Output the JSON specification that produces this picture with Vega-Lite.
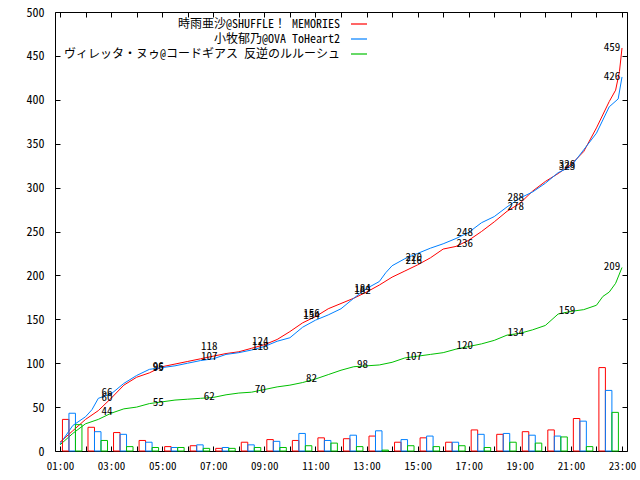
{
  "$schema": "https://vega.github.io/schema/vega-lite/v6.json",
  "width": 572,
  "height": 439,
  "autosize": "none",
  "padding": {"left": 55, "top": 12, "right": 13, "bottom": 29},
  "background": "white",
  "config": {
    "view": {"stroke": "black", "strokeWidth": 1},
    "font": "'Noto Sans Mono CJK JP', 'Noto Sans CJK JP', sans-serif",
    "axis": {
      "domain": false, "grid": false, "title": null,
      "tickColor": "black", "tickSize": -5, "tickWidth": 1,
      "labelColor": "black", "labelFontSize": 11,
      "labelFont": "'Noto Sans Mono CJK JP', 'Noto Sans CJK JP', sans-serif",
      "labelOverlap": false, "labelFlush": false
    },
    "legend": {
      "orient": "none", "legendX": 295, "legendY": 3,
      "title": null, "padding": 0,
      "symbolType": "stroke", "symbolSize": 256, "symbolStrokeWidth": 1.2,
      "labelAlign": "right", "labelOffset": -28, "labelLimit": 400,
      "labelFontSize": 12, "labelColor": "black",
      "labelFont": "'Noto Sans Mono CJK JP', 'Noto Sans CJK JP', sans-serif",
      "rowPadding": -2
    }
  },
  "datasets": {
    "hourly": [
      {"hour": 1, "series": "時雨亜沙@SHUFFLE！ MEMORIES", "votes": 36},
      {"hour": 2, "series": "時雨亜沙@SHUFFLE！ MEMORIES", "votes": 27},
      {"hour": 3, "series": "時雨亜沙@SHUFFLE！ MEMORIES", "votes": 21},
      {"hour": 4, "series": "時雨亜沙@SHUFFLE！ MEMORIES", "votes": 12},
      {"hour": 5, "series": "時雨亜沙@SHUFFLE！ MEMORIES", "votes": 5},
      {"hour": 6, "series": "時雨亜沙@SHUFFLE！ MEMORIES", "votes": 6},
      {"hour": 7, "series": "時雨亜沙@SHUFFLE！ MEMORIES", "votes": 3},
      {"hour": 8, "series": "時雨亜沙@SHUFFLE！ MEMORIES", "votes": 10},
      {"hour": 9, "series": "時雨亜沙@SHUFFLE！ MEMORIES", "votes": 13},
      {"hour": 10, "series": "時雨亜沙@SHUFFLE！ MEMORIES", "votes": 12},
      {"hour": 11, "series": "時雨亜沙@SHUFFLE！ MEMORIES", "votes": 15},
      {"hour": 12, "series": "時雨亜沙@SHUFFLE！ MEMORIES", "votes": 14},
      {"hour": 13, "series": "時雨亜沙@SHUFFLE！ MEMORIES", "votes": 17},
      {"hour": 14, "series": "時雨亜沙@SHUFFLE！ MEMORIES", "votes": 10},
      {"hour": 15, "series": "時雨亜沙@SHUFFLE！ MEMORIES", "votes": 15},
      {"hour": 16, "series": "時雨亜沙@SHUFFLE！ MEMORIES", "votes": 10},
      {"hour": 17, "series": "時雨亜沙@SHUFFLE！ MEMORIES", "votes": 24},
      {"hour": 18, "series": "時雨亜沙@SHUFFLE！ MEMORIES", "votes": 19},
      {"hour": 19, "series": "時雨亜沙@SHUFFLE！ MEMORIES", "votes": 22},
      {"hour": 20, "series": "時雨亜沙@SHUFFLE！ MEMORIES", "votes": 24},
      {"hour": 21, "series": "時雨亜沙@SHUFFLE！ MEMORIES", "votes": 37},
      {"hour": 22, "series": "時雨亜沙@SHUFFLE！ MEMORIES", "votes": 95},
      {"hour": 1, "series": "小牧郁乃@OVA ToHeart2", "votes": 43},
      {"hour": 2, "series": "小牧郁乃@OVA ToHeart2", "votes": 22},
      {"hour": 3, "series": "小牧郁乃@OVA ToHeart2", "votes": 19},
      {"hour": 4, "series": "小牧郁乃@OVA ToHeart2", "votes": 10},
      {"hour": 5, "series": "小牧郁乃@OVA ToHeart2", "votes": 4},
      {"hour": 6, "series": "小牧郁乃@OVA ToHeart2", "votes": 7},
      {"hour": 7, "series": "小牧郁乃@OVA ToHeart2", "votes": 4},
      {"hour": 8, "series": "小牧郁乃@OVA ToHeart2", "votes": 7},
      {"hour": 9, "series": "小牧郁乃@OVA ToHeart2", "votes": 11},
      {"hour": 10, "series": "小牧郁乃@OVA ToHeart2", "votes": 20},
      {"hour": 11, "series": "小牧郁乃@OVA ToHeart2", "votes": 12},
      {"hour": 12, "series": "小牧郁乃@OVA ToHeart2", "votes": 18},
      {"hour": 13, "series": "小牧郁乃@OVA ToHeart2", "votes": 23},
      {"hour": 14, "series": "小牧郁乃@OVA ToHeart2", "votes": 13},
      {"hour": 15, "series": "小牧郁乃@OVA ToHeart2", "votes": 17},
      {"hour": 16, "series": "小牧郁乃@OVA ToHeart2", "votes": 10},
      {"hour": 17, "series": "小牧郁乃@OVA ToHeart2", "votes": 19},
      {"hour": 18, "series": "小牧郁乃@OVA ToHeart2", "votes": 20},
      {"hour": 19, "series": "小牧郁乃@OVA ToHeart2", "votes": 18},
      {"hour": 20, "series": "小牧郁乃@OVA ToHeart2", "votes": 17},
      {"hour": 21, "series": "小牧郁乃@OVA ToHeart2", "votes": 34},
      {"hour": 22, "series": "小牧郁乃@OVA ToHeart2", "votes": 69},
      {"hour": 1, "series": "ヴィレッタ・ヌゥ@コードギアス 反逆のルルーシュ", "votes": 30},
      {"hour": 2, "series": "ヴィレッタ・ヌゥ@コードギアス 反逆のルルーシュ", "votes": 12},
      {"hour": 3, "series": "ヴィレッタ・ヌゥ@コードギアス 反逆のルルーシュ", "votes": 5},
      {"hour": 4, "series": "ヴィレッタ・ヌゥ@コードギアス 反逆のルルーシュ", "votes": 4},
      {"hour": 5, "series": "ヴィレッタ・ヌゥ@コードギアス 反逆のルルーシュ", "votes": 4},
      {"hour": 6, "series": "ヴィレッタ・ヌゥ@コードギアス 反逆のルルーシュ", "votes": 3},
      {"hour": 7, "series": "ヴィレッタ・ヌゥ@コードギアス 反逆のルルーシュ", "votes": 3},
      {"hour": 8, "series": "ヴィレッタ・ヌゥ@コードギアス 反逆のルルーシュ", "votes": 4},
      {"hour": 9, "series": "ヴィレッタ・ヌゥ@コードギアス 反逆のルルーシュ", "votes": 4},
      {"hour": 10, "series": "ヴィレッタ・ヌゥ@コードギアス 反逆のルルーシュ", "votes": 6},
      {"hour": 11, "series": "ヴィレッタ・ヌゥ@コードギアス 反逆のルルーシュ", "votes": 9},
      {"hour": 12, "series": "ヴィレッタ・ヌゥ@コードギアス 反逆のルルーシュ", "votes": 5},
      {"hour": 13, "series": "ヴィレッタ・ヌゥ@コードギアス 反逆のルルーシュ", "votes": 1},
      {"hour": 14, "series": "ヴィレッタ・ヌゥ@コードギアス 反逆のルルーシュ", "votes": 6},
      {"hour": 15, "series": "ヴィレッタ・ヌゥ@コードギアス 反逆のルルーシュ", "votes": 5},
      {"hour": 16, "series": "ヴィレッタ・ヌゥ@コードギアス 反逆のルルーシュ", "votes": 6},
      {"hour": 17, "series": "ヴィレッタ・ヌゥ@コードギアス 反逆のルルーシュ", "votes": 4},
      {"hour": 18, "series": "ヴィレッタ・ヌゥ@コードギアス 反逆のルルーシュ", "votes": 10},
      {"hour": 19, "series": "ヴィレッタ・ヌゥ@コードギアス 反逆のルルーシュ", "votes": 9},
      {"hour": 20, "series": "ヴィレッタ・ヌゥ@コードギアス 反逆のルルーシュ", "votes": 16},
      {"hour": 21, "series": "ヴィレッタ・ヌゥ@コードギアス 反逆のルルーシュ", "votes": 5},
      {"hour": 22, "series": "ヴィレッタ・ヌゥ@コードギアス 反逆のルルーシュ", "votes": 44}
    ],
    "totals": [
      {"time": 1, "series": "時雨亜沙@SHUFFLE！ MEMORIES", "votes": 10},
      {"time": 1.5, "series": "時雨亜沙@SHUFFLE！ MEMORIES", "votes": 23},
      {"time": 2, "series": "時雨亜沙@SHUFFLE！ MEMORIES", "votes": 36},
      {"time": 2.5, "series": "時雨亜沙@SHUFFLE！ MEMORIES", "votes": 46},
      {"time": 3, "series": "時雨亜沙@SHUFFLE！ MEMORIES", "votes": 60},
      {"time": 3.5, "series": "時雨亜沙@SHUFFLE！ MEMORIES", "votes": 75},
      {"time": 4, "series": "時雨亜沙@SHUFFLE！ MEMORIES", "votes": 84},
      {"time": 4.5, "series": "時雨亜沙@SHUFFLE！ MEMORIES", "votes": 89},
      {"time": 5, "series": "時雨亜沙@SHUFFLE！ MEMORIES", "votes": 96},
      {"time": 5.5, "series": "時雨亜沙@SHUFFLE！ MEMORIES", "votes": 99},
      {"time": 6, "series": "時雨亜沙@SHUFFLE！ MEMORIES", "votes": 102},
      {"time": 6.5, "series": "時雨亜沙@SHUFFLE！ MEMORIES", "votes": 105},
      {"time": 7, "series": "時雨亜沙@SHUFFLE！ MEMORIES", "votes": 108},
      {"time": 7.5, "series": "時雨亜沙@SHUFFLE！ MEMORIES", "votes": 111},
      {"time": 8, "series": "時雨亜沙@SHUFFLE！ MEMORIES", "votes": 113},
      {"time": 8.5, "series": "時雨亜沙@SHUFFLE！ MEMORIES", "votes": 117},
      {"time": 9, "series": "時雨亜沙@SHUFFLE！ MEMORIES", "votes": 121},
      {"time": 9.5, "series": "時雨亜沙@SHUFFLE！ MEMORIES", "votes": 127},
      {"time": 10, "series": "時雨亜沙@SHUFFLE！ MEMORIES", "votes": 136},
      {"time": 10.5, "series": "時雨亜沙@SHUFFLE！ MEMORIES", "votes": 146},
      {"time": 11, "series": "時雨亜沙@SHUFFLE！ MEMORIES", "votes": 153},
      {"time": 11.5, "series": "時雨亜沙@SHUFFLE！ MEMORIES", "votes": 162},
      {"time": 12, "series": "時雨亜沙@SHUFFLE！ MEMORIES", "votes": 168},
      {"time": 12.5, "series": "時雨亜沙@SHUFFLE！ MEMORIES", "votes": 174},
      {"time": 13, "series": "時雨亜沙@SHUFFLE！ MEMORIES", "votes": 181},
      {"time": 13.5, "series": "時雨亜沙@SHUFFLE！ MEMORIES", "votes": 189},
      {"time": 14, "series": "時雨亜沙@SHUFFLE！ MEMORIES", "votes": 198},
      {"time": 14.5, "series": "時雨亜沙@SHUFFLE！ MEMORIES", "votes": 205},
      {"time": 15, "series": "時雨亜沙@SHUFFLE！ MEMORIES", "votes": 212},
      {"time": 15.5, "series": "時雨亜沙@SHUFFLE！ MEMORIES", "votes": 220},
      {"time": 16, "series": "時雨亜沙@SHUFFLE！ MEMORIES", "votes": 230},
      {"time": 16.5, "series": "時雨亜沙@SHUFFLE！ MEMORIES", "votes": 233},
      {"time": 17, "series": "時雨亜沙@SHUFFLE！ MEMORIES", "votes": 240},
      {"time": 17.5, "series": "時雨亜沙@SHUFFLE！ MEMORIES", "votes": 250},
      {"time": 18, "series": "時雨亜沙@SHUFFLE！ MEMORIES", "votes": 261},
      {"time": 18.5, "series": "時雨亜沙@SHUFFLE！ MEMORIES", "votes": 273},
      {"time": 19, "series": "時雨亜沙@SHUFFLE！ MEMORIES", "votes": 282},
      {"time": 19.5, "series": "時雨亜沙@SHUFFLE！ MEMORIES", "votes": 296},
      {"time": 20, "series": "時雨亜沙@SHUFFLE！ MEMORIES", "votes": 307},
      {"time": 20.5, "series": "時雨亜沙@SHUFFLE！ MEMORIES", "votes": 316},
      {"time": 21, "series": "時雨亜沙@SHUFFLE！ MEMORIES", "votes": 326},
      {"time": 21.5, "series": "時雨亜沙@SHUFFLE！ MEMORIES", "votes": 341},
      {"time": 22, "series": "時雨亜沙@SHUFFLE！ MEMORIES", "votes": 368},
      {"time": 22.5, "series": "時雨亜沙@SHUFFLE！ MEMORIES", "votes": 398},
      {"time": 22.75, "series": "時雨亜沙@SHUFFLE！ MEMORIES", "votes": 411},
      {"time": 22.9, "series": "時雨亜沙@SHUFFLE！ MEMORIES", "votes": 432},
      {"time": 23, "series": "時雨亜沙@SHUFFLE！ MEMORIES", "votes": 459},
      {"time": 1, "series": "小牧郁乃@OVA ToHeart2", "votes": 8},
      {"time": 1.5, "series": "小牧郁乃@OVA ToHeart2", "votes": 29},
      {"time": 2, "series": "小牧郁乃@OVA ToHeart2", "votes": 39},
      {"time": 2.25, "series": "小牧郁乃@OVA ToHeart2", "votes": 47},
      {"time": 2.5, "series": "小牧郁乃@OVA ToHeart2", "votes": 60},
      {"time": 3, "series": "小牧郁乃@OVA ToHeart2", "votes": 65},
      {"time": 3.5, "series": "小牧郁乃@OVA ToHeart2", "votes": 77},
      {"time": 4, "series": "小牧郁乃@OVA ToHeart2", "votes": 86},
      {"time": 4.5, "series": "小牧郁乃@OVA ToHeart2", "votes": 93},
      {"time": 5, "series": "小牧郁乃@OVA ToHeart2", "votes": 95},
      {"time": 5.5, "series": "小牧郁乃@OVA ToHeart2", "votes": 97},
      {"time": 6, "series": "小牧郁乃@OVA ToHeart2", "votes": 100},
      {"time": 6.5, "series": "小牧郁乃@OVA ToHeart2", "votes": 103},
      {"time": 7, "series": "小牧郁乃@OVA ToHeart2", "votes": 105},
      {"time": 7.5, "series": "小牧郁乃@OVA ToHeart2", "votes": 110},
      {"time": 8, "series": "小牧郁乃@OVA ToHeart2", "votes": 112},
      {"time": 8.5, "series": "小牧郁乃@OVA ToHeart2", "votes": 115},
      {"time": 9, "series": "小牧郁乃@OVA ToHeart2", "votes": 119},
      {"time": 9.5, "series": "小牧郁乃@OVA ToHeart2", "votes": 125},
      {"time": 10, "series": "小牧郁乃@OVA ToHeart2", "votes": 129},
      {"time": 10.5, "series": "小牧郁乃@OVA ToHeart2", "votes": 141},
      {"time": 11, "series": "小牧郁乃@OVA ToHeart2", "votes": 149},
      {"time": 11.5, "series": "小牧郁乃@OVA ToHeart2", "votes": 155},
      {"time": 12, "series": "小牧郁乃@OVA ToHeart2", "votes": 162},
      {"time": 12.5, "series": "小牧郁乃@OVA ToHeart2", "votes": 174},
      {"time": 13, "series": "小牧郁乃@OVA ToHeart2", "votes": 185},
      {"time": 13.5, "series": "小牧郁乃@OVA ToHeart2", "votes": 193},
      {"time": 13.75, "series": "小牧郁乃@OVA ToHeart2", "votes": 203},
      {"time": 14, "series": "小牧郁乃@OVA ToHeart2", "votes": 211},
      {"time": 14.5, "series": "小牧郁乃@OVA ToHeart2", "votes": 219},
      {"time": 15, "series": "小牧郁乃@OVA ToHeart2", "votes": 225},
      {"time": 15.5, "series": "小牧郁乃@OVA ToHeart2", "votes": 231},
      {"time": 16, "series": "小牧郁乃@OVA ToHeart2", "votes": 236},
      {"time": 16.5, "series": "小牧郁乃@OVA ToHeart2", "votes": 242},
      {"time": 17, "series": "小牧郁乃@OVA ToHeart2", "votes": 249},
      {"time": 17.5, "series": "小牧郁乃@OVA ToHeart2", "votes": 260},
      {"time": 18, "series": "小牧郁乃@OVA ToHeart2", "votes": 267},
      {"time": 18.5, "series": "小牧郁乃@OVA ToHeart2", "votes": 278},
      {"time": 19, "series": "小牧郁乃@OVA ToHeart2", "votes": 288},
      {"time": 19.5, "series": "小牧郁乃@OVA ToHeart2", "votes": 295},
      {"time": 20, "series": "小牧郁乃@OVA ToHeart2", "votes": 305},
      {"time": 20.5, "series": "小牧郁乃@OVA ToHeart2", "votes": 317},
      {"time": 21, "series": "小牧郁乃@OVA ToHeart2", "votes": 324},
      {"time": 21.5, "series": "小牧郁乃@OVA ToHeart2", "votes": 343},
      {"time": 22, "series": "小牧郁乃@OVA ToHeart2", "votes": 362},
      {"time": 22.5, "series": "小牧郁乃@OVA ToHeart2", "votes": 392},
      {"time": 22.85, "series": "小牧郁乃@OVA ToHeart2", "votes": 401},
      {"time": 23, "series": "小牧郁乃@OVA ToHeart2", "votes": 426},
      {"time": 1, "series": "ヴィレッタ・ヌゥ@コードギアス 反逆のルルーシュ", "votes": 7},
      {"time": 1.5, "series": "ヴィレッタ・ヌゥ@コードギアス 反逆のルルーシュ", "votes": 20},
      {"time": 2, "series": "ヴィレッタ・ヌゥ@コードギアス 反逆のルルーシュ", "votes": 31},
      {"time": 2.5, "series": "ヴィレッタ・ヌゥ@コードギアス 反逆のルルーシュ", "votes": 36},
      {"time": 3, "series": "ヴィレッタ・ヌゥ@コードギアス 反逆のルルーシュ", "votes": 43},
      {"time": 3.5, "series": "ヴィレッタ・ヌゥ@コードギアス 反逆のルルーシュ", "votes": 48},
      {"time": 4, "series": "ヴィレッタ・ヌゥ@コードギアス 反逆のルルーシュ", "votes": 50},
      {"time": 4.5, "series": "ヴィレッタ・ヌゥ@コードギアス 反逆のルルーシュ", "votes": 54},
      {"time": 5, "series": "ヴィレッタ・ヌゥ@コードギアス 反逆のルルーシュ", "votes": 56},
      {"time": 5.5, "series": "ヴィレッタ・ヌゥ@コードギアス 反逆のルルーシュ", "votes": 58},
      {"time": 6, "series": "ヴィレッタ・ヌゥ@コードギアス 反逆のルルーシュ", "votes": 59},
      {"time": 6.5, "series": "ヴィレッタ・ヌゥ@コードギアス 反逆のルルーシュ", "votes": 60},
      {"time": 7, "series": "ヴィレッタ・ヌゥ@コードギアス 反逆のルルーシュ", "votes": 61},
      {"time": 7.5, "series": "ヴィレッタ・ヌゥ@コードギアス 反逆のルルーシュ", "votes": 64},
      {"time": 8, "series": "ヴィレッタ・ヌゥ@コードギアス 反逆のルルーシュ", "votes": 66},
      {"time": 8.5, "series": "ヴィレッタ・ヌゥ@コードギアス 反逆のルルーシュ", "votes": 67},
      {"time": 9, "series": "ヴィレッタ・ヌゥ@コードギアス 反逆のルルーシュ", "votes": 70},
      {"time": 9.5, "series": "ヴィレッタ・ヌゥ@コードギアス 反逆のルルーシュ", "votes": 73},
      {"time": 10, "series": "ヴィレッタ・ヌゥ@コードギアス 反逆のルルーシュ", "votes": 75},
      {"time": 10.5, "series": "ヴィレッタ・ヌゥ@コードギアス 反逆のルルーシュ", "votes": 78},
      {"time": 11, "series": "ヴィレッタ・ヌゥ@コードギアス 反逆のルルーシュ", "votes": 82},
      {"time": 11.5, "series": "ヴィレッタ・ヌゥ@コードギアス 反逆のルルーシュ", "votes": 87},
      {"time": 12, "series": "ヴィレッタ・ヌゥ@コードギアス 反逆のルルーシュ", "votes": 92},
      {"time": 12.5, "series": "ヴィレッタ・ヌゥ@コードギアス 反逆のルルーシュ", "votes": 96},
      {"time": 13, "series": "ヴィレッタ・ヌゥ@コードギアス 反逆のルルーシュ", "votes": 97},
      {"time": 13.5, "series": "ヴィレッタ・ヌゥ@コードギアス 反逆のルルーシュ", "votes": 98},
      {"time": 14, "series": "ヴィレッタ・ヌゥ@コードギアス 反逆のルルーシュ", "votes": 101},
      {"time": 14.5, "series": "ヴィレッタ・ヌゥ@コードギアス 反逆のルルーシュ", "votes": 106},
      {"time": 15, "series": "ヴィレッタ・ヌゥ@コードギアス 反逆のルルーシュ", "votes": 108},
      {"time": 15.5, "series": "ヴィレッタ・ヌゥ@コードギアス 反逆のルルーシュ", "votes": 110},
      {"time": 16, "series": "ヴィレッタ・ヌゥ@コードギアス 反逆のルルーシュ", "votes": 112},
      {"time": 16.5, "series": "ヴィレッタ・ヌゥ@コードギアス 反逆のルルーシュ", "votes": 116},
      {"time": 17, "series": "ヴィレッタ・ヌゥ@コードギアス 反逆のルルーシュ", "votes": 119},
      {"time": 17.5, "series": "ヴィレッタ・ヌゥ@コードギアス 反逆のルルーシュ", "votes": 122},
      {"time": 18, "series": "ヴィレッタ・ヌゥ@コードギアス 反逆のルルーシュ", "votes": 126},
      {"time": 18.5, "series": "ヴィレッタ・ヌゥ@コードギアス 反逆のルルーシュ", "votes": 132},
      {"time": 19, "series": "ヴィレッタ・ヌゥ@コードギアス 反逆のルルーシュ", "votes": 134},
      {"time": 19.5, "series": "ヴィレッタ・ヌゥ@コードギアス 反逆のルルーシュ", "votes": 138},
      {"time": 20, "series": "ヴィレッタ・ヌゥ@コードギアス 反逆のルルーシュ", "votes": 143},
      {"time": 20.5, "series": "ヴィレッタ・ヌゥ@コードギアス 反逆のルルーシュ", "votes": 156},
      {"time": 21, "series": "ヴィレッタ・ヌゥ@コードギアス 反逆のルルーシュ", "votes": 159},
      {"time": 21.5, "series": "ヴィレッタ・ヌゥ@コードギアス 反逆のルルーシュ", "votes": 161},
      {"time": 22, "series": "ヴィレッタ・ヌゥ@コードギアス 反逆のルルーシュ", "votes": 166},
      {"time": 22.25, "series": "ヴィレッタ・ヌゥ@コードギアス 反逆のルルーシュ", "votes": 176},
      {"time": 22.5, "series": "ヴィレッタ・ヌゥ@コードギアス 反逆のルルーシュ", "votes": 181},
      {"time": 22.75, "series": "ヴィレッタ・ヌゥ@コードギアス 反逆のルルーシュ", "votes": 191},
      {"time": 23, "series": "ヴィレッタ・ヌゥ@コードギアス 反逆のルルーシュ", "votes": 209}
    ],
    "labels": [
      {"time": 3, "series": "時雨亜沙@SHUFFLE！ MEMORIES", "votes": 60},
      {"time": 5, "series": "時雨亜沙@SHUFFLE！ MEMORIES", "votes": 96},
      {"time": 7, "series": "時雨亜沙@SHUFFLE！ MEMORIES", "votes": 118},
      {"time": 9, "series": "時雨亜沙@SHUFFLE！ MEMORIES", "votes": 124},
      {"time": 11, "series": "時雨亜沙@SHUFFLE！ MEMORIES", "votes": 156},
      {"time": 13, "series": "時雨亜沙@SHUFFLE！ MEMORIES", "votes": 182},
      {"time": 15, "series": "時雨亜沙@SHUFFLE！ MEMORIES", "votes": 216},
      {"time": 17, "series": "時雨亜沙@SHUFFLE！ MEMORIES", "votes": 236},
      {"time": 19, "series": "時雨亜沙@SHUFFLE！ MEMORIES", "votes": 278},
      {"time": 21, "series": "時雨亜沙@SHUFFLE！ MEMORIES", "votes": 326},
      {"time": 22.77, "series": "時雨亜沙@SHUFFLE！ MEMORIES", "votes": 459},
      {"time": 3, "series": "小牧郁乃@OVA ToHeart2", "votes": 66},
      {"time": 5, "series": "小牧郁乃@OVA ToHeart2", "votes": 95},
      {"time": 7, "series": "小牧郁乃@OVA ToHeart2", "votes": 107},
      {"time": 9, "series": "小牧郁乃@OVA ToHeart2", "votes": 118},
      {"time": 11, "series": "小牧郁乃@OVA ToHeart2", "votes": 154},
      {"time": 13, "series": "小牧郁乃@OVA ToHeart2", "votes": 184},
      {"time": 15, "series": "小牧郁乃@OVA ToHeart2", "votes": 220},
      {"time": 17, "series": "小牧郁乃@OVA ToHeart2", "votes": 248},
      {"time": 19, "series": "小牧郁乃@OVA ToHeart2", "votes": 288},
      {"time": 21, "series": "小牧郁乃@OVA ToHeart2", "votes": 323},
      {"time": 22.77, "series": "小牧郁乃@OVA ToHeart2", "votes": 426},
      {"time": 3, "series": "ヴィレッタ・ヌゥ@コードギアス 反逆のルルーシュ", "votes": 44},
      {"time": 5, "series": "ヴィレッタ・ヌゥ@コードギアス 反逆のルルーシュ", "votes": 55},
      {"time": 7, "series": "ヴィレッタ・ヌゥ@コードギアス 反逆のルルーシュ", "votes": 62},
      {"time": 9, "series": "ヴィレッタ・ヌゥ@コードギアス 反逆のルルーシュ", "votes": 70},
      {"time": 11, "series": "ヴィレッタ・ヌゥ@コードギアス 反逆のルルーシュ", "votes": 82},
      {"time": 13, "series": "ヴィレッタ・ヌゥ@コードギアス 反逆のルルーシュ", "votes": 98},
      {"time": 15, "series": "ヴィレッタ・ヌゥ@コードギアス 反逆のルルーシュ", "votes": 107},
      {"time": 17, "series": "ヴィレッタ・ヌゥ@コードギアス 反逆のルルーシュ", "votes": 120},
      {"time": 19, "series": "ヴィレッタ・ヌゥ@コードギアス 反逆のルルーシュ", "votes": 134},
      {"time": 21, "series": "ヴィレッタ・ヌゥ@コードギアス 反逆のルルーシュ", "votes": 159},
      {"time": 22.77, "series": "ヴィレッタ・ヌゥ@コードギアス 反逆のルルーシュ", "votes": 209}
    ]
  },
  "layer": [
    {
      "data": {"name": "totals"},
      "mark": {"type": "line", "strokeWidth": 1, "interpolate": "linear"},
      "encoding": {
        "x": {
          "field": "time", "type": "quantitative",
          "scale": {"domain": [1, 23], "nice": false},
          "axis": {
            "orient": "bottom",
            "values": [1, 2, 3, 4, 5, 6, 7, 8, 9, 10, 11, 12, 13, 14, 15, 16, 17, 18, 19, 20, 21, 22, 23],
            "labelExpr": "datum.value % 2 == 1 ? (datum.value < 10 ? '0' : '') + datum.value + ':00' : ''",
            "labelPadding": 14, "labelDx": -3
          }
        },
        "y": {
          "field": "votes", "type": "quantitative",
          "scale": {"domain": [0, 500], "nice": false},
          "axis": {
            "orient": "left",
            "values": [0, 50, 100, 150, 200, 250, 300, 350, 400, 450, 500],
            "labelPadding": 16, "labelFontSize": 12
          }
        },
        "color": {
          "field": "series", "type": "nominal",
          "scale": {
            "domain": ["時雨亜沙@SHUFFLE！ MEMORIES", "小牧郁乃@OVA ToHeart2", "ヴィレッタ・ヌゥ@コードギアス 反逆のルルーシュ"],
            "range": ["#ff0000", "#0080ff", "#00c000"]
          }
        }
      }
    },
    {
      "data": {"name": "hourly"},
      "transform": [{"filter": "datum.series === '時雨亜沙@SHUFFLE！ MEMORIES'"}],
      "mark": {"type": "bar", "filled": false, "strokeWidth": 1, "width": 6.5, "xOffset": 5.7},
      "encoding": {
        "x": {"field": "hour", "type": "quantitative", "scale": {"domain": [1, 23], "nice": false}, "axis": null},
        "y": {"field": "votes", "type": "quantitative", "scale": {"domain": [0, 500], "nice": false}, "axis": null},
        "color": {"field": "series", "type": "nominal"}
      }
    },
    {
      "data": {"name": "hourly"},
      "transform": [{"filter": "datum.series === '小牧郁乃@OVA ToHeart2'"}],
      "mark": {"type": "bar", "filled": false, "strokeWidth": 1, "width": 6.5, "xOffset": 12.2},
      "encoding": {
        "x": {"field": "hour", "type": "quantitative", "scale": {"domain": [1, 23], "nice": false}, "axis": null},
        "y": {"field": "votes", "type": "quantitative", "scale": {"domain": [0, 500], "nice": false}, "axis": null},
        "color": {"field": "series", "type": "nominal"}
      }
    },
    {
      "data": {"name": "hourly"},
      "transform": [{"filter": "datum.series === 'ヴィレッタ・ヌゥ@コードギアス 反逆のルルーシュ'"}],
      "mark": {"type": "bar", "filled": false, "strokeWidth": 1, "width": 6.5, "xOffset": 18.7},
      "encoding": {
        "x": {"field": "hour", "type": "quantitative", "scale": {"domain": [1, 23], "nice": false}, "axis": null},
        "y": {"field": "votes", "type": "quantitative", "scale": {"domain": [0, 500], "nice": false}, "axis": null},
        "color": {"field": "series", "type": "nominal"}
      }
    },
    {
      "data": {"name": "labels"},
      "mark": {"type": "text", "dx": -4, "fontSize": 11, "color": "black", "align": "center", "baseline": "middle",
               "font": "'Noto Sans Mono CJK JP', 'Noto Sans CJK JP', sans-serif"},
      "encoding": {
        "x": {
          "field": "time", "type": "quantitative",
          "scale": {"domain": [1, 23], "nice": false},
          "axis": {
            "orient": "top", "labels": false,
            "values": [1, 2, 3, 4, 5, 6, 7, 8, 9, 10, 11, 12, 13, 14, 15, 16, 17, 18, 19, 20, 21, 22, 23]
          }
        },
        "y": {
          "field": "votes", "type": "quantitative",
          "scale": {"domain": [0, 500], "nice": false},
          "axis": {
            "orient": "right", "labels": false,
            "values": [0, 50, 100, 150, 200, 250, 300, 350, 400, 450, 500]
          }
        },
        "text": {"field": "votes", "type": "quantitative"}
      }
    }
  ],
  "resolve": {"axis": {"x": "independent", "y": "independent"}}
}
